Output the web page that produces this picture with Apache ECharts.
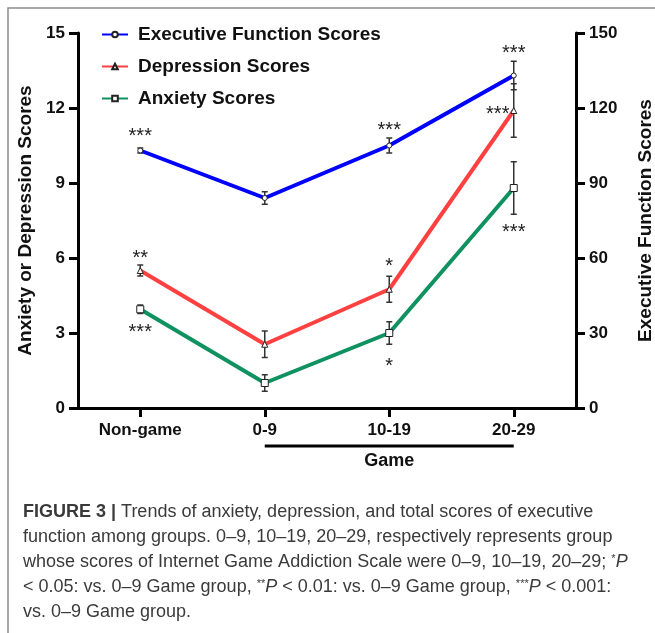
<!DOCTYPE html>
<html lang="en">
<head>
<meta charset="UTF-8">
<title>Figure 3 - Trends of anxiety, depression and executive function</title>
<script src="https://cdn.jsdelivr.net/npm/echarts@6/dist/echarts.min.js"></script>
<style>
  html, body { margin: 0; padding: 0; background: #fff; }
  #main { width: 655px; height: 633px; }
</style>
</head>
<body>
<div id="main"></div>
<script>
// groups on the x axis
var groups = ['Non-game', '0-9', '10-19', '20-29'];

// executive function (right axis) mean and SE
var execMean = [103, 84, 105, 133];
var execErr = [1, 2.5, 3, 5.7];
// depression (left axis)
var deprMean = [5.5, 2.55, 4.75, 11.9];
var deprErr = [0.22, 0.53, 0.52, 1.07];
// anxiety (left axis)
var anxMean = [3.95, 1.0, 3.0, 8.8];
var anxErr = [0.17, 0.33, 0.45, 1.05];

// significance marks vs. the 0-9 group
var execStars = ['***', '', '***', '***'];
var deprStars = ['**', '', '*', '***'];
var anxStars = ['***', '', '*', '***'];

// tick labels
var leftTicks = [0, 3, 6, 9, 12, 15];
var rightTicks = [0, 30, 60, 90, 120, 150];

var FONT = 'Liberation Sans, Arial, Helvetica, sans-serif';

// where each star label sits relative to its point (px)
var execStarOff = [[0, -14], null, [0, -15], [0, -22]];
var deprStarOff = [[0, -12], null, [0, -23], [-16, 4]];
var anxStarOff = [[0, 23], null, [0, 33], [0, 44]];

var myChart = echarts.init(document.getElementById('main'));

// line data with star labels attached
function withStars(mean, stars, offs) {
  return mean.map(function (v, i) {
    if (!stars[i]) return v;
    return {
      value: v,
      label: {
        show: true,
        formatter: stars[i],
        position: 'inside',
        offset: offs[i],
        fontSize: 20,
        fontFamily: FONT,
        color: '#222'
      }
    };
  });
}

// vertical error bars with caps
function errorBars(name, mean, err, axisIdx) {
  return {
    name: name + ' err',
    type: 'custom',
    yAxisIndex: axisIdx,
    z: 2,
    silent: true,
    data: mean.map(function (m, i) { return [i, m - err[i], m + err[i]]; }),
    renderItem: function (params, api) {
      var lo = api.coord([api.value(0), api.value(1)]);
      var hi = api.coord([api.value(0), api.value(2)]);
      var st = { stroke: '#333', lineWidth: 1.5 };
      return {
        type: 'group',
        children: [
          { type: 'line', shape: { x1: hi[0], y1: hi[1], x2: lo[0], y2: lo[1] }, style: st },
          { type: 'line', shape: { x1: hi[0] - 3, y1: hi[1], x2: hi[0] + 3, y2: hi[1] }, style: st },
          { type: 'line', shape: { x1: lo[0] - 3, y1: lo[1], x2: lo[0] + 3, y2: lo[1] }, style: st }
        ]
      };
    }
  };
}

function lineSeries(name, data, axisIdx, color, symbol, size) {
  return {
    name: name,
    type: 'line',
    yAxisIndex: axisIdx,
    z: 3,
    data: data,
    symbol: symbol,
    symbolSize: size,
    showAllSymbol: true,
    lineStyle: { color: color, width: 4 },
    itemStyle: { color: '#fff', borderColor: '#222', borderWidth: 1 },
    emphasis: { disabled: true }
  };
}

var axisLine = { show: true, lineStyle: { color: '#000', width: 3 } };
var axisTick = { show: true, length: 9, lineStyle: { color: '#000', width: 3 } };
var tickLabel = { fontSize: 17, fontWeight: 'bold', color: '#111', fontFamily: FONT, margin: 13 };
var titleStyle = { fontSize: 19, fontWeight: 'bold', color: '#111', fontFamily: FONT };

myChart.setOption({
  animation: false,
  textStyle: { fontFamily: FONT },
  grid: { left: 78, right: 79, top: 33, bottom: 225, outerBoundsMode: 'none', containLabel: false },
  legend: {
    orient: 'vertical',
    left: 96,
    top: 20,
    itemWidth: 26,
    itemHeight: 7,
    itemGap: 13,
    data: ['Executive Function Scores', 'Depression Scores', 'Anxiety Scores'],
    textStyle: { fontSize: 19, fontWeight: 'bold', color: '#111', fontFamily: FONT, padding: [0, 0, 0, 5] }
  },
  xAxis: {
    type: 'category',
    data: groups,
    boundaryGap: true,
    axisLine: axisLine,
    axisTick: { show: true, alignWithLabel: true, length: 9, lineStyle: { color: '#000', width: 3 } },
    axisLabel: { fontSize: 17, fontWeight: 'bold', color: '#111', fontFamily: FONT, margin: 14 },
    splitLine: { show: false }
  },
  yAxis: [
    {
      type: 'value',
      position: 'left',
      min: leftTicks[0],
      max: leftTicks[leftTicks.length - 1],
      interval: leftTicks[1] - leftTicks[0],
      name: 'Anxiety or Depression Scores',
      nameLocation: 'middle',
      nameRotate: 90,
      nameGap: 42,
      nameTextStyle: titleStyle,
      axisLine: axisLine,
      axisTick: axisTick,
      axisLabel: tickLabel,
      splitLine: { show: false }
    },
    {
      type: 'value',
      position: 'right',
      min: rightTicks[0],
      max: rightTicks[rightTicks.length - 1],
      interval: rightTicks[1] - rightTicks[0],
      name: 'Executive Function Scores',
      nameLocation: 'middle',
      nameRotate: 90,
      nameGap: 60,
      nameTextStyle: titleStyle,
      axisLine: axisLine,
      axisTick: axisTick,
      axisLabel: tickLabel,
      splitLine: { show: false }
    }
  ],
  series: [
    errorBars('Executive Function Scores', execMean, execErr, 1),
    errorBars('Depression Scores', deprMean, deprErr, 0),
    errorBars('Anxiety Scores', anxMean, anxErr, 0),
    lineSeries('Executive Function Scores', withStars(execMean, execStars, execStarOff), 1, '#0000ff', 'circle', 5),
    lineSeries('Depression Scores', withStars(deprMean, deprStars, deprStarOff), 0, '#ff4040', 'triangle', 6),
    lineSeries('Anxiety Scores', withStars(anxMean, anxStars, anxStarOff), 0, '#0f9160', 'rect', 7)
  ]
});

// "Game" bracket under the three game groups, plus frame and caption
var gx0 = myChart.convertToPixel({ xAxisIndex: 0 }, groups[1]);
var gx1 = myChart.convertToPixel({ xAxisIndex: 0 }, groups[3]);
var capColor = '#3a3a3a';
var capSize = 18;
var capRich = {
  b: { fontWeight: 'bold', fontSize: capSize, color: '#222', fontFamily: FONT },
  i: { fontStyle: 'italic', fontSize: capSize, color: capColor, fontFamily: FONT },
  s: { fontSize: 11, color: capColor, fontFamily: FONT, verticalAlign: 'top', padding: [0, 0, 6, 0] }
};
var captionLines = [
  '{b|FIGURE 3 |} Trends of anxiety, depression, and total scores of executive',
  'function among groups. 0\u20139, 10\u201319, 20\u201329, respectively represents group',
  'whose scores of Internet Game Addiction Scale were 0\u20139, 10\u201319, 20\u201329; {s|*}{i|P}',
  '< 0.05: vs. 0\u20139 Game group, {s|**}{i|P} < 0.01: vs. 0\u20139 Game group, {s|***}{i|P} < 0.001:',
  'vs. 0\u20139 Game group.'
];

var graphics = [
  {
    type: 'rect',
    shape: { x: 8, y: 8, width: 760, height: 760 },
    style: { fill: 'none', stroke: '#8c8c8c', lineWidth: 1.5 },
    silent: true
  },
  {
    type: 'line',
    shape: { x1: gx0, y1: 446, x2: gx1, y2: 446 },
    style: { stroke: '#000', lineWidth: 3 }
  },
  {
    type: 'text',
    x: (gx0 + gx1) / 2,
    y: 461,
    style: { text: 'Game', fontSize: 18, fontWeight: 'bold', fill: '#111', fontFamily: FONT, align: 'center', verticalAlign: 'middle' }
  }
];
captionLines.forEach(function (line, k) {
  graphics.push({
    type: 'text',
    x: 23,
    y: 512 + k * 25,
    style: {
      text: line,
      fontSize: capSize,
      fill: capColor,
      fontFamily: FONT,
      align: 'left',
      verticalAlign: 'middle',
      rich: capRich
    }
  });
});

myChart.setOption({ graphic: graphics });
</script>
</body>
</html>
